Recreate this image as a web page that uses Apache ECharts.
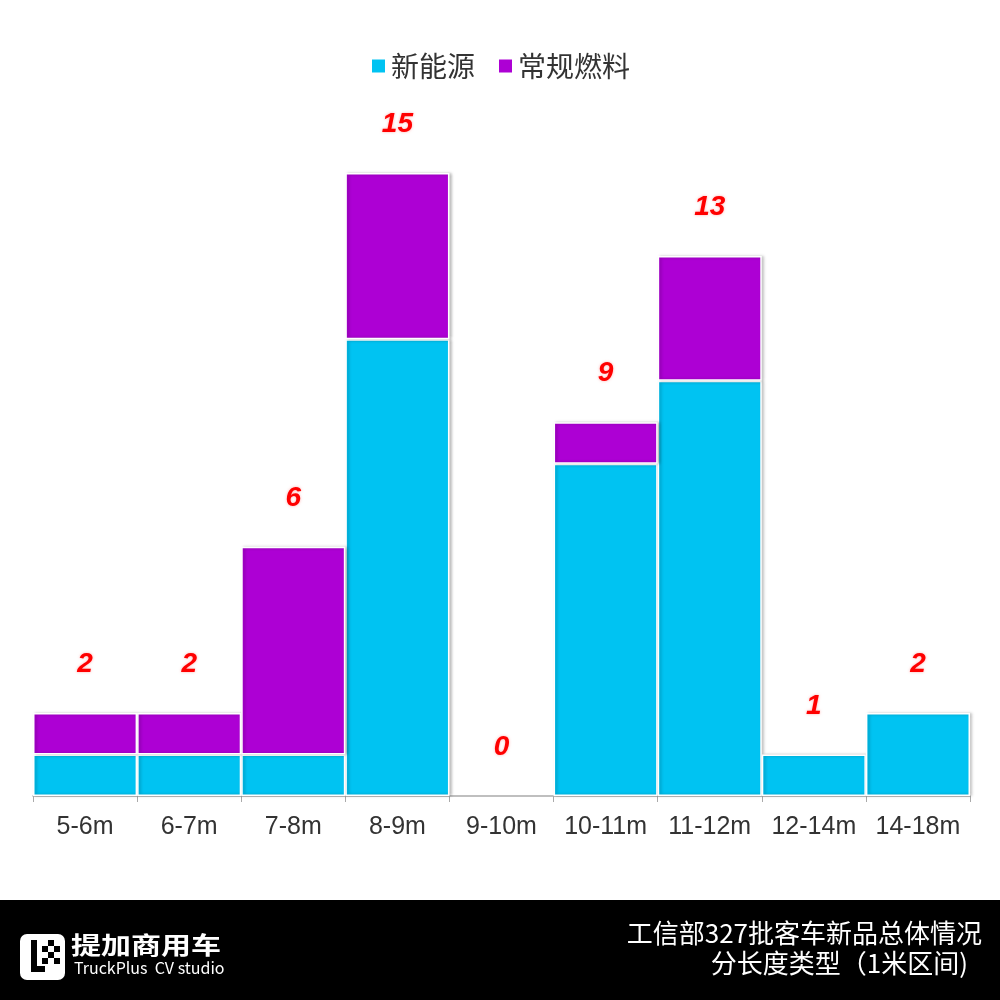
<!DOCTYPE html>
<html>
<head>
<meta charset="utf-8">
<script src="https://cdn.jsdelivr.net/npm/echarts@6/dist/echarts.min.js"></script>
<style>
  html, body { margin: 0; padding: 0; background: #fff; }
  #main { width: 1000px; height: 1000px; }
</style>
</head>
<body>
<div id="main"></div>
<script>
const categories = ["5-6m", "6-7m", "7-8m", "8-9m", "9-10m", "10-11m", "11-12m", "12-14m", "14-18m"];
const newEnergy = [1, 1, 1, 11, 0, 8, 10, 1, 2];
const conventional = [1, 1, 5, 4, 0, 1, 3, 0, 0];
const totals = newEnergy.map((v, i) => v + conventional[i]);

const cjk = '"Noto Sans CJK SC", sans-serif';
const latin = '"Liberation Sans", Arial, sans-serif';

const chart = echarts.init(document.getElementById("main"));

// zero-height bars would leave a white border line, skip them
const noZero = arr => arr.map(v => (v === 0 ? "-" : v));

const barItem = color => ({
  color: color,
  borderColor: "#fff",
  borderWidth: 1.5,
  shadowColor: "rgba(0,0,0,0.25)",
  shadowBlur: 3,
  shadowOffsetX: 2
});

chart.setOption({
  animation: false,
  legend: {
    data: ["新能源", "常规燃料"],
    top: 47,
    left: "center",
    itemWidth: 15,
    itemHeight: 15,
    itemGap: 22,
    icon: "rect",
    textStyle: { fontFamily: cjk, fontSize: 28, color: "#333" }
  },
  grid: { left: 33, right: 30, top: 173, bottom: 204 },
  xAxis: {
    type: "category",
    data: categories,
    axisLine: { lineStyle: { color: "#aaa", width: 1.5 } },
    axisTick: { show: true, interval: 0, length: 6, lineStyle: { color: "#aaa" } },
    axisLabel: { interval: 0, fontFamily: latin, fontSize: 25, color: "#333", margin: 19 }
  },
  yAxis: { type: "value", min: 0, max: 15, show: false },
  series: [
    {
      name: "新能源",
      type: "bar",
      stack: "all",
      barCategoryGap: "0%",
      data: noZero(newEnergy),
      itemStyle: barItem("#00c3f2")
    },
    {
      name: "常规燃料",
      type: "bar",
      stack: "all",
      barCategoryGap: "0%",
      data: noZero(conventional),
      itemStyle: barItem("#ad00d4")
    },
    {
      name: "合计",
      type: "line",
      data: totals,
      symbol: "circle",
      symbolSize: 1,
      showSymbol: true,
      itemStyle: { color: "rgba(0,0,0,0)" },
      lineStyle: { opacity: 0 },
      silent: true,
      label: {
        show: true,
        position: "top",
        distance: 34,
        fontFamily: latin,
        fontSize: 28,
        fontStyle: "italic",
        fontWeight: "bold",
        color: "#ff0000",
        textShadowColor: "rgba(255,120,120,0.6)",
        textShadowBlur: 3
      }
    }
  ],
  graphic: [
    { type: "rect", left: 0, top: 900, shape: { width: 1000, height: 100 }, style: { fill: "#000" } },
    { type: "rect", left: 20, top: 934, shape: { width: 45, height: 46, r: 7 }, style: { fill: "#fff" } },
    { type: "rect", left: 31, top: 940, shape: { width: 6, height: 32 }, style: { fill: "#000" } },
    { type: "rect", left: 31, top: 966, shape: { width: 14, height: 6 }, style: { fill: "#000" } },
    { type: "rect", left: 42, top: 946, shape: { width: 6, height: 6 }, style: { fill: "#000" } },
    { type: "rect", left: 48, top: 952, shape: { width: 6, height: 6 }, style: { fill: "#000" } },
    { type: "rect", left: 54, top: 946, shape: { width: 6, height: 6 }, style: { fill: "#000" } },
    { type: "rect", left: 42, top: 958, shape: { width: 6, height: 6 }, style: { fill: "#000" } },
    { type: "rect", left: 54, top: 958, shape: { width: 6, height: 6 }, style: { fill: "#000" } },
    { type: "rect", left: 48, top: 940, shape: { width: 6, height: 6 }, style: { fill: "#000" } },
    {
      type: "text", left: 71, top: 933, scaleY: 0.8,
      style: { text: "提加商用车", fill: "#fff", fontFamily: cjk, fontSize: 30, fontWeight: "bold" }
    },
    {
      type: "text", left: 74, top: 960,
      style: { text: "TruckPlus  CV studio", fill: "#fff", fontFamily: cjk, fontSize: 16 }
    },
    {
      type: "text", right: 18, top: 920,
      style: { text: "工信部327批客车新品总体情况", fill: "#fff", fontFamily: cjk, fontSize: 26, textAlign: "right" }
    },
    {
      type: "text", right: 32, top: 950,
      style: { text: "分长度类型（1米区间)", fill: "#fff", fontFamily: cjk, fontSize: 26, textAlign: "right" }
    }
  ]
});
</script>
</body>
</html>
